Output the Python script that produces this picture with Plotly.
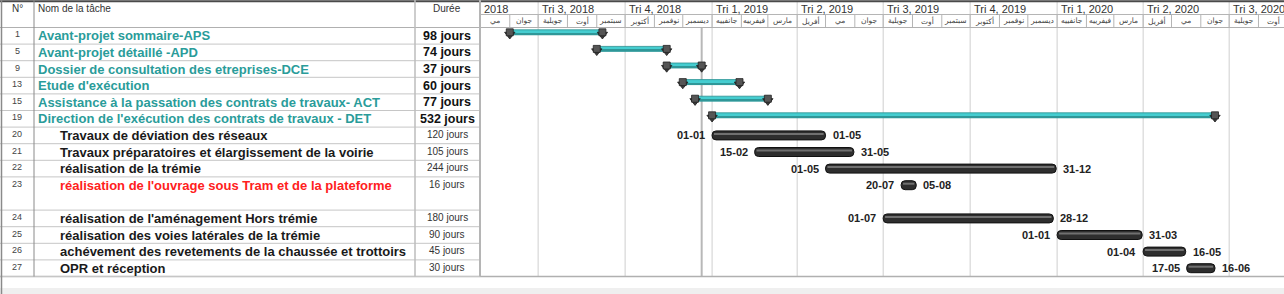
import plotly.graph_objects as go
import pandas as pd

W, H = 1284, 294

# ---------------- data ----------------
task_ids = [1, 5, 9, 13, 15, 19, 20, 21, 22, 23, 24, 25, 26, 27]
task_names = [
    "Avant-projet sommaire-APS",
    "Avant-projet détaillé -APD",
    "Dossier de consultation des etreprises-DCE",
    "Etude d'exécution",
    "Assistance à la passation des contrats de travaux- ACT",
    "Direction de l'exécution des contrats de travaux - DET",
    "Travaux de déviation des réseaux",
    "Travaux préparatoires et élargissement de la voirie",
    "réalisation de la trémie",
    "réalisation de l'ouvrage sous Tram et de la plateforme",
    "réalisation de l'aménagement Hors trémie",
    "réalisation des voies latérales de la trémie",
    "achévement des revetements de la chaussée et trottoirs",
    "OPR et réception",
]
durations = [98, 74, 37, 60, 77, 532, 120, 105, 244, 16, 180, 90, 45, 30]
starts = [
    "2018-06-01", "2018-09-01", "2018-11-14", "2018-12-01", "2018-12-14",
    "2019-01-01", "2019-01-01", "2019-02-15", "2019-05-01", "2019-07-20",
    "2019-07-01", "2020-01-01", "2020-04-01", "2020-05-17",
]
is_summary = [True] * 6 + [False] * 8
is_red = [i == 23 for i in task_ids]
row_units = [2 if i == 23 else 1 for i in task_ids]

quarter_labels = ["2018", "Tri 3, 2018", "Tri 4, 2018", "Tri 1, 2019", "Tri 2, 2019",
                  "Tri 3, 2019", "Tri 4, 2019", "Tri 1, 2020", "Tri 2, 2020", "Tri 3, 2020"]
quarter_starts = ["2018-04-01", "2018-07-01", "2018-10-01", "2019-01-01", "2019-04-01",
                  "2019-07-01", "2019-10-01", "2020-01-01", "2020-04-01", "2020-07-01"]
month_names_ar = {1: "جانفييه", 2: "فيفرييه", 3: "مارس", 4: "أفريل", 5: "مي", 6: "جوان",
                  7: "جويلية", 8: "أوت", 9: "سبتمبر", 10: "أكتوبر", 11: "نوفمبر", 12: "ديسمبر"}
status_date = "2018-12-21"

# ---------------- layout constants ----------------
TL_START = pd.Timestamp("2018-04-30 12:00")
TL_END = pd.Timestamp("2020-08-28")
GX0 = 480          # gantt left (px)
HDR = 27.5         # header bottom (px)
RH = 16.6          # row height (px)
FONT = "Liberation Sans, Arial, Helvetica, sans-serif"
AR_FONT = "DejaVu Sans, sans-serif"
TEAL = "#2a9c9a"
COL_N = 34
COL_DUR = 415


def px(x):
    return x / W


st = pd.to_datetime(starts)
ends = [s + pd.Timedelta(days=d) for s, d in zip(st, durations)]

# row centers
centers = []
u = 0
for ru in row_units:
    centers.append(HDR + (u + 0.5) * RH)
    u += ru
total_units = u
TABLE_BOTTOM = HDR + total_units * RH

fig = go.Figure()
shapes = []
ann = []

# ---------------- gantt marks ----------------
sum_idx = [i for i in range(len(task_ids)) if is_summary[i]]
sub_idx = [i for i in range(len(task_ids)) if not is_summary[i]]

# summary bars (teal)
sy = [centers[i] - 3.5 for i in sum_idx]
fig.add_trace(go.Bar(
    orientation="h", base=[st[i] for i in sum_idx],
    x=[(ends[i] - st[i]).total_seconds() * 1000 for i in sum_idx],
    y=sy, width=5, marker=dict(color="#45cdd0", line=dict(color="#2a8f90", width=0.8)),
    hoverinfo="skip", showlegend=False))
fig.add_trace(go.Bar(
    orientation="h", base=[st[i] for i in sum_idx],
    x=[(ends[i] - st[i]).total_seconds() * 1000 for i in sum_idx],
    y=sy, width=1.2, offset=1.0, marker=dict(color="#2f9798", line=dict(width=0)),
    hoverinfo="skip", showlegend=False))
# summary caps: flat top + pointed bottom
cap_x, cap_y = [], []
for i in sum_idx:
    cap_x += [st[i], ends[i]]
    cap_y += [centers[i] - 3.5, centers[i] - 3.5]
fig.add_trace(go.Scatter(
    x=cap_x, y=[c + 2.2 for c in cap_y], mode="markers",
    marker=dict(symbol="triangle-down", size=9, color="#3a3a3a",
                line=dict(color="#1e1e1e", width=0.8)),
    hoverinfo="skip", showlegend=False))
fig.add_trace(go.Scatter(
    x=cap_x, y=cap_y, mode="markers",
    marker=dict(symbol="square", size=7, color="#555555",
                line=dict(color="#222222", width=0.8)),
    hoverinfo="skip", showlegend=False))

# task bars (dark)
fig.add_trace(go.Bar(
    orientation="h", base=[st[i] for i in sub_idx],
    x=[(ends[i] - st[i]).total_seconds() * 1000 for i in sub_idx],
    y=[centers[i] for i in sub_idx], width=9,
    marker=dict(color="#2e2e2e", line=dict(color="#111111", width=1), cornerradius=4),
    hoverinfo="skip", showlegend=False))
fig.add_trace(go.Bar(
    orientation="h", base=[st[i] + pd.Timedelta(days=2) for i in sub_idx],
    x=[(ends[i] - st[i] - pd.Timedelta(days=4)).total_seconds() * 1000 for i in sub_idx],
    y=[centers[i] for i in sub_idx], width=2, offset=-2.5,
    marker=dict(color="#707070", line=dict(width=0)),
    hoverinfo="skip", showlegend=False))

# date labels
lab_font = dict(family=FONT, size=11, color="#222222")
for i in sub_idx:
    ann.append(dict(x=st[i], y=centers[i], xref="x", yref="y", xanchor="right",
                    yanchor="middle", xshift=-5, showarrow=False,
                    text="<b>%s</b>" % st[i].strftime("%d-%m"), font=lab_font))
    ann.append(dict(x=ends[i], y=centers[i], xref="x", yref="y", xanchor="left",
                    yanchor="middle", xshift=5, showarrow=False,
                    text="<b>%s</b>" % ends[i].strftime("%d-%m"), font=lab_font))

# ---------------- gantt grid & header ----------------
qs = pd.to_datetime(quarter_starts)
for q in qs[1:]:
    shapes.append(dict(type="line", xref="x", yref="y", x0=q, x1=q, y0=2, y1=TABLE_BOTTOM,
                       line=dict(color="#cfcfcf", width=1), layer="below"))
for lab, q in zip(quarter_labels, qs):
    ann.append(dict(x=max(q, TL_START), y=8.5, xref="x", yref="y", xanchor="left",
                    yanchor="middle", xshift=2, showarrow=False, text=lab,
                    font=dict(family=FONT, size=11, color="#333333")))
months = pd.date_range("2018-05-01", "2020-08-01", freq="MS")
for m in months:
    nxt = m + pd.offsets.MonthBegin(1)
    if m > TL_START:
        shapes.append(dict(type="line", xref="x", yref="y", x0=m, x1=m, y0=14.5, y1=HDR,
                           line=dict(color="#b5b5b5", width=1)))
    mid = m + (nxt - m) / 2
    ann.append(dict(x=mid, y=20.5, xref="x", yref="y", xanchor="center", yanchor="middle",
                    showarrow=False, text=month_names_ar[m.month],
                    font=dict(family=AR_FONT, size=7.5, color="#444444")))
# status line
shapes.append(dict(type="line", xref="x", yref="y", x0=status_date, x1=status_date,
                   y0=HDR, y1=TABLE_BOTTOM, line=dict(color="#b8b8b8", width=2), layer="below"))
# header horizontal lines
shapes.append(dict(type="line", xref="paper", yref="y", x0=px(GX0), x1=1, y0=14.5, y1=14.5,
                   line=dict(color="#b5b5b5", width=1)))
shapes.append(dict(type="line", xref="paper", yref="y", x0=0, x1=1, y0=HDR, y1=HDR,
                   line=dict(color="#b0b0b0", width=1)))
shapes.append(dict(type="line", xref="paper", yref="y", x0=0, x1=1, y0=1.2, y1=1.2,
                   line=dict(color="#4a4a4a", width=2)))
shapes.append(dict(type="line", xref="paper", yref="y", x0=0, x1=1, y0=TABLE_BOTTOM,
                   y1=TABLE_BOTTOM, line=dict(color="#b0b0b0", width=1.5)))
shapes.append(dict(type="rect", xref="paper", yref="y", x0=0, x1=1, y0=288, y1=H,
                   fillcolor="#efefef", line=dict(width=0), layer="below"))

# ---------------- table ----------------
u = 0
for ru in row_units:
    u += ru
    yb = HDR + u * RH
    shapes.append(dict(type="line", xref="paper", yref="y", x0=0, x1=px(GX0), y0=yb, y1=yb,
                       line=dict(color="#c6c6c6", width=1)))
shapes.append(dict(type="line", xref="paper", yref="y", x0=px(1.5), x1=px(1.5), y0=0, y1=H,
                   line=dict(color="#8a8a8a", width=1.5)))
shapes.append(dict(type="line", xref="paper", yref="y", x0=px(COL_N), x1=px(COL_N), y0=0,
                   y1=TABLE_BOTTOM, line=dict(color="#8a8a8a", width=1)))
shapes.append(dict(type="line", xref="paper", yref="y", x0=px(COL_DUR), x1=px(COL_DUR), y0=0,
                   y1=TABLE_BOTTOM, line=dict(color="#bdbdbd", width=1.5)))
shapes.append(dict(type="line", xref="paper", yref="y", x0=px(GX0), x1=px(GX0), y0=0,
                   y1=TABLE_BOTTOM, line=dict(color="#b5b5b5", width=2)))

hdr_font = dict(family=FONT, size=10, color="#333333")
ann.append(dict(x=px(17), y=8, xref="paper", yref="y", xanchor="center", yanchor="middle",
                showarrow=False, text="N°", font=hdr_font))
ann.append(dict(x=px(36), y=8, xref="paper", yref="y", xanchor="left", yanchor="middle",
                showarrow=False, text="Nom de la tâche", font=hdr_font))
ann.append(dict(x=px(447), y=8, xref="paper", yref="y", xanchor="center", yanchor="middle",
                showarrow=False, text="Durée", font=hdr_font))

for k, tid in enumerate(task_ids):
    yc = centers[k]
    ann.append(dict(x=px(17), y=yc - 1.5, xref="paper", yref="y", xanchor="center",
                    yanchor="middle", showarrow=False, text=str(tid),
                    font=dict(family=FONT, size=9, color="#444444")))
    if is_summary[k]:
        name_font = dict(family=FONT, size=13, color=TEAL)
        nx = 36
        dur_font = dict(family=FONT, size=12.5, color="#111111")
        dur_txt = "<b>%d jours</b>" % durations[k]
    else:
        name_font = dict(family=FONT, size=13, color="#ff2020" if is_red[k] else "#1a1a1a")
        nx = 58
        dur_font = dict(family=FONT, size=10, color="#333333")
        dur_txt = "%d jours" % durations[k]
    ann.append(dict(x=px(nx), y=yc, xref="paper", yref="y", xanchor="left", yanchor="middle",
                    showarrow=False, text="<b>%s</b>" % task_names[k], font=name_font))
    ann.append(dict(x=px(447), y=yc - (0 if is_summary[k] else 1), xref="paper", yref="y",
                    xanchor="center", yanchor="middle", showarrow=False, text=dur_txt,
                    font=dur_font))

fig.update_layout(
    width=W, height=H, margin=dict(l=0, r=0, t=0, b=0),
    paper_bgcolor="white", plot_bgcolor="white",
    barmode="overlay", showlegend=False,
    xaxis=dict(type="date", domain=[px(GX0), 1], range=[TL_START, TL_END],
               showgrid=False, zeroline=False, showticklabels=False, showline=False,
               fixedrange=True),
    yaxis=dict(domain=[0, 1], range=[H, 0], showgrid=False, zeroline=False,
               showticklabels=False, showline=False, fixedrange=True),
    shapes=shapes, annotations=ann,
)
fig.write_html("out.html")
